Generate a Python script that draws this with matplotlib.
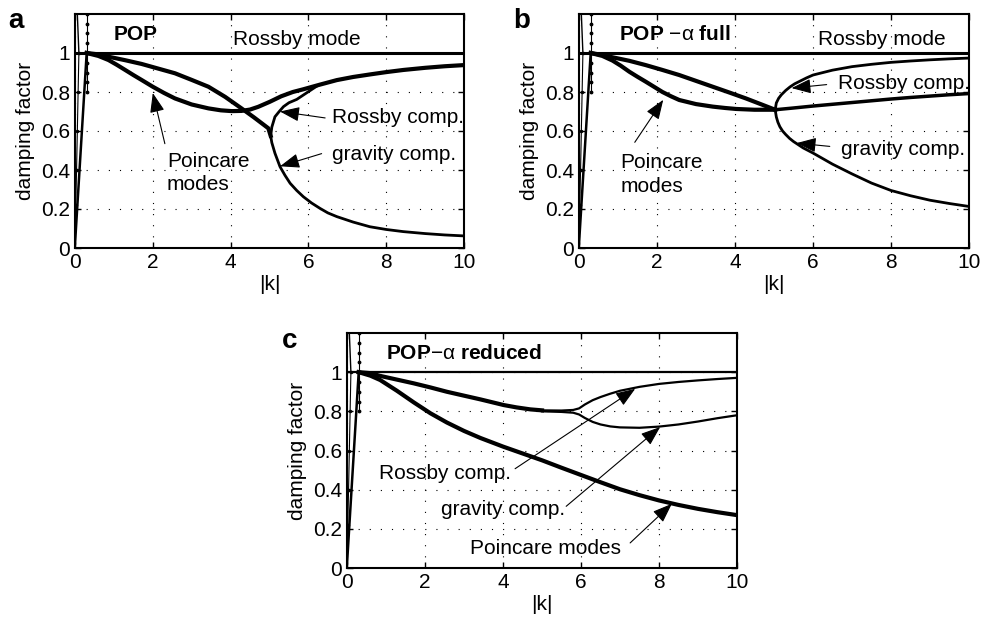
import matplotlib
matplotlib.use('Agg')
import matplotlib.pyplot as plt

plt.rcParams['font.family'] = ['Liberation Sans', 'DejaVu Sans']
plt.rcParams['mathtext.fontset'] = 'custom'
plt.rcParams['mathtext.rm'] = 'Liberation Sans'
plt.rcParams['mathtext.bf'] = 'Liberation Sans:bold'
plt.rcParams['mathtext.it'] = 'Liberation Sans:italic'

# ---- panel a (POP) ----
a_up_k = [0.3, 0.6, 0.86, 1.29, 1.71, 2.14, 2.57, 3.0, 3.43, 3.86, 4.28, 4.6, 4.97, 5.03]
a_up_y = [1.0, 0.993, 0.981, 0.963, 0.944, 0.92, 0.896, 0.862, 0.827, 0.775, 0.716, 0.67, 0.614, 0.575]
a_lo_k = [0.3, 0.6, 0.86, 1.07, 1.29, 1.5, 1.71, 2.0, 2.29, 2.57, 3.0, 3.43, 3.75, 4.03,
          4.28, 4.5, 4.71, 5.01, 5.3, 5.6, 5.87, 6.3, 6.73, 7.15, 7.58, 8.0, 8.44, 9.0, 9.5, 10.0]
a_lo_y = [1.0, 0.985, 0.964, 0.94, 0.913, 0.887, 0.862, 0.827, 0.795, 0.767, 0.736, 0.716, 0.706, 0.702,
          0.703, 0.71, 0.724, 0.75, 0.778, 0.80, 0.814, 0.838, 0.861, 0.877, 0.89, 0.902, 0.913, 0.924, 0.932, 0.938]
a_ros_k = [5.03, 5.06, 5.14, 5.25, 5.36, 5.5, 5.7, 5.95, 6.2]
a_ros_y = [0.575, 0.62, 0.673, 0.70, 0.725, 0.745, 0.762, 0.795, 0.828]
a_grav_k = [5.03, 5.06, 5.14, 5.27, 5.4, 5.53, 5.7, 5.87, 6.08, 6.3, 6.5, 6.73, 7.15, 7.58, 8.0, 8.44, 9.0, 9.5, 10.0]
a_grav_y = [0.575, 0.54, 0.486, 0.417, 0.372, 0.332, 0.295, 0.263, 0.231, 0.203, 0.18, 0.161, 0.133, 0.109, 0.095, 0.084, 0.074, 0.067, 0.062]

# ---- panel b (POP-alpha full) ----
b_up_k = [0.3, 0.6, 0.86, 1.29, 1.71, 2.14, 2.57, 3.0, 3.43, 3.86, 4.28, 4.67, 5.03]
b_up_y = [1.0, 0.99, 0.978, 0.96, 0.938, 0.913, 0.887, 0.857, 0.827, 0.797, 0.767, 0.737, 0.709]
b_lo_k = [0.3, 0.6, 0.86, 1.07, 1.29, 1.5, 1.71, 1.93, 2.14, 2.36, 2.57, 3.0, 3.43, 3.75, 4.03, 4.5, 5.03]
b_lo_y = [1.0, 0.985, 0.961, 0.935, 0.904, 0.878, 0.853, 0.826, 0.80, 0.778, 0.759, 0.738, 0.725, 0.718, 0.713, 0.709, 0.709]
b_mid_k = [5.03, 5.5, 6.0, 6.5, 7.0, 7.5, 8.0, 8.5, 9.0, 9.5, 10.0]
b_mid_y = [0.709, 0.718, 0.728, 0.737, 0.746, 0.755, 0.764, 0.772, 0.779, 0.786, 0.792]
b_ros_k = [5.03, 5.06, 5.12, 5.19, 5.3, 5.41, 5.53, 5.66, 5.83, 6.0, 6.5, 7.0, 7.5, 8.0, 8.5, 9.0, 9.5, 10.0]
b_ros_y = [0.709, 0.744, 0.768, 0.786, 0.808, 0.826, 0.842, 0.855, 0.872, 0.887, 0.912, 0.93, 0.942, 0.952, 0.959, 0.965, 0.97, 0.974]
b_grav_k = [5.03, 5.06, 5.1, 5.15, 5.22, 5.3, 5.4, 5.5, 5.75, 6.0, 6.5, 7.0, 7.5, 8.0, 8.5, 9.0, 9.5, 10.0]
b_grav_y = [0.709, 0.672, 0.645, 0.622, 0.6, 0.582, 0.562, 0.546, 0.513, 0.487, 0.43, 0.38, 0.333, 0.295, 0.268, 0.245, 0.228, 0.213]

# ---- panel c (POP-alpha reduced) ----
c_lo_k = [0.3, 0.6, 0.85, 1.28, 1.71, 2.14, 2.56, 3.0, 3.42, 4.0, 4.5, 5.0, 5.5, 6.0,
          6.5, 7.0, 7.5, 8.0, 8.5, 9.0, 9.5, 10.0]
c_lo_y = [1.0, 0.982, 0.96, 0.905, 0.846, 0.79, 0.743, 0.70, 0.664, 0.62, 0.585, 0.55, 0.512, 0.475,
          0.438, 0.402, 0.372, 0.345, 0.322, 0.302, 0.285, 0.27]
c_up_k = [0.3, 0.6, 0.85, 1.28, 1.71, 2.14, 2.56, 3.0, 3.42, 4.02, 4.35, 4.7, 5.0]
c_up_y = [1.0, 0.995, 0.981, 0.962, 0.943, 0.922, 0.90, 0.88, 0.861, 0.832, 0.82, 0.81, 0.805]
c_ros_k = [5.0, 5.5, 5.8, 5.95, 6.1, 6.3, 6.5, 6.75, 7.0, 7.5, 8.0, 8.5, 9.0, 9.5, 10.0]
c_ros_y = [0.805, 0.804, 0.807, 0.815, 0.835, 0.857, 0.873, 0.89, 0.905, 0.925, 0.94, 0.95, 0.958, 0.965, 0.971]
c_grav_k = [5.0, 5.5, 5.8, 5.95, 6.1, 6.3, 6.5, 6.75, 7.0, 7.5, 8.0, 8.5, 9.0, 9.5, 10.0]
c_grav_y = [0.80, 0.797, 0.793, 0.784, 0.766, 0.746, 0.733, 0.723, 0.718, 0.716, 0.722, 0.733, 0.748, 0.765, 0.78]

# small |k| branches (same in all panels)
s_thick_k = [0.0, 0.3]
s_thick_y = [0.02, 1.0]
s_vert_k = [0.3, 0.3, 0.3, 0.3, 0.3, 0.3, 0.3, 0.3, 0.3]
s_vert_y = [1.2, 1.15, 1.1, 1.05, 1.0, 0.95, 0.9, 0.85, 0.8]
s_thin_k = [0.06, 0.1]
s_thin_y = [1.2, 1.0]
s_dot_k = [0.1, 0.08, 0.06, 0.04, 0.02, 0.0]
s_dot_y = [1.0, 0.8, 0.6, 0.4, 0.22, 0.0]

xticks = [0, 2, 4, 6, 8, 10]
yticks = [0, 0.2, 0.4, 0.6, 0.8, 1.0]
yticklabels = ['0', '0.2', '0.4', '0.6', '0.8', '1']

W, H = 984, 622
fig = plt.figure(figsize=(W / 100, H / 100), dpi=100)

def make_ax(left, top, right, bottom):
    ax = fig.add_axes([left / W, 1 - bottom / H, (right - left) / W, (bottom - top) / H])
    ax.set_xlim(0, 10)
    ax.set_ylim(0, 1.2)
    ax.set_xticks(xticks)
    ax.set_yticks(yticks)
    ax.set_yticklabels(yticklabels)
    ax.tick_params(direction='in', top=True, right=True, length=4, labelsize=15, width=1)
    ax.grid(True, color='k', linestyle=(0, (1, 9)), linewidth=0.8)
    ax.set_axisbelow(True)
    for s in ax.spines.values():
        s.set_linewidth(1.5)
    ax.set_xlabel('|k|', fontsize=15, labelpad=2)
    ax.set_ylabel('damping factor', fontsize=15, labelpad=4)
    ax.plot(s_thick_k, s_thick_y, 'k-', lw=1.8)
    ax.plot(s_vert_k, s_vert_y, 'k-', marker='.', lw=0.8, ms=3.5)
    ax.plot(s_thin_k, s_thin_y, 'k-', lw=1)
    ax.plot(s_dot_k, s_dot_y, 'k-', marker='.', lw=0.8, ms=3)
    return ax

def arrow(ax, tail, head, lw=0.8):
    ax.annotate('', xy=head, xytext=tail,
                arrowprops=dict(arrowstyle='-|>,head_length=0.8,head_width=0.3',
                                color='k', lw=lw, shrinkA=0, shrinkB=0,
                                mutation_scale=15))

# panel a
ax = make_ax(75, 14, 464, 248)
ax.axhline(1.0, color='k', lw=2.2)
ax.plot(a_up_k, a_up_y, 'k-', lw=3)
ax.plot(a_lo_k, a_lo_y, 'k-', lw=3)
ax.plot(a_ros_k, a_ros_y, 'k-', lw=2)
ax.plot(a_grav_k, a_grav_y, 'k-', lw=2)
ax.text(0.99, 1.097, 'POP', fontsize=15, fontweight='bold', va='center')
ax.text(4.07, 1.07, 'Rossby mode', fontsize=15, va='center')
ax.text(6.6, 0.667, 'Rossby comp.', fontsize=15, va='center')
ax.text(6.6, 0.479, 'gravity comp.', fontsize=15, va='center')
ax.text(2.36, 0.444, 'Poincare', fontsize=15, va='center')
ax.text(2.36, 0.325, 'modes', fontsize=15, va='center')
arrow(ax, (6.43, 0.667), (5.27, 0.70))
arrow(ax, (6.34, 0.484), (5.27, 0.419))
arrow(ax, (2.31, 0.535), (2.0, 0.795))

# panel b
ax = make_ax(579, 14, 969, 248)
ax.axhline(1.0, color='k', lw=2.2)
ax.plot(b_up_k, b_up_y, 'k-', lw=3)
ax.plot(b_lo_k, b_lo_y, 'k-', lw=3)
ax.plot(b_mid_k, b_mid_y, 'k-', lw=2.5)
ax.plot(b_ros_k, b_ros_y, 'k-', lw=2)
ax.plot(b_grav_k, b_grav_y, 'k-', lw=2)
ax.text(1.03, 1.097, '$\\mathbf{POP}$ \u2212\u03b1 $\\mathbf{full}$', fontsize=15, va='center')
ax.text(6.13, 1.07, 'Rossby mode', fontsize=15, va='center')
ax.text(6.65, 0.843, 'Rossby comp.', fontsize=15, va='center')
ax.text(6.73, 0.504, 'gravity comp.', fontsize=15, va='center')
ax.text(1.07, 0.436, 'Poincare', fontsize=15, va='center')
ax.text(1.07, 0.316, 'modes', fontsize=15, va='center')
arrow(ax, (6.35, 0.838), (5.45, 0.82))
arrow(ax, (6.43, 0.521), (5.58, 0.538))
arrow(ax, (1.43, 0.542), (2.16, 0.76))

# panel c
ax = make_ax(347, 333, 737, 568)
ax.axhline(1.0, color='k', lw=1.6)
ax.plot(c_lo_k, c_lo_y, 'k-', lw=3)
ax.plot(c_up_k, c_up_y, 'k-', lw=3)
ax.plot(c_ros_k, c_ros_y, 'k-', lw=1.6)
ax.plot(c_grav_k, c_grav_y, 'k-', lw=1.6)
ax.text(1.01, 1.094, '$\\mathbf{POP}$\u2212\u03b1 $\\mathbf{reduced}$', fontsize=15, va='center')
ax.text(0.82, 0.481, 'Rossby comp.', fontsize=15, va='center')
ax.text(2.42, 0.298, 'gravity comp.', fontsize=15, va='center')
ax.text(3.15, 0.099, 'Poincare modes', fontsize=15, va='center')
arrow(ax, (4.31, 0.507), (7.39, 0.915))
arrow(ax, (5.62, 0.315), (8.03, 0.72))
arrow(ax, (7.26, 0.128), (8.33, 0.328))

# panel letters
fig.text(8 / W, 1 - 28 / H, 'a', fontsize=20, fontweight='bold', va='baseline')
fig.text(513 / W, 1 - 28 / H, 'b', fontsize=20, fontweight='bold', va='baseline')
fig.text(282 / W, 1 - 348 / H, 'c', fontsize=20, fontweight='bold', va='baseline')

fig.savefig('out.png', dpi=100)
